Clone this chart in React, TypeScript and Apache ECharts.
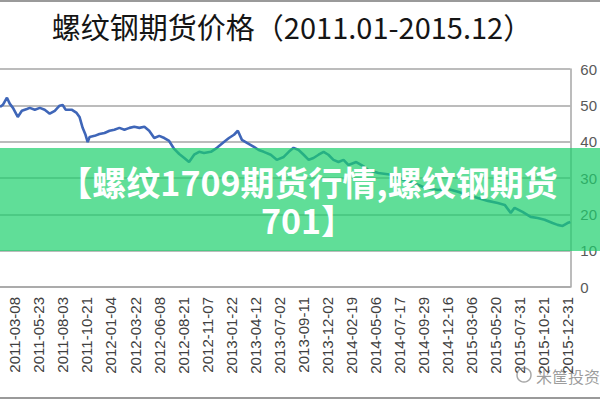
import React, { useEffect, useRef } from "react";
import * as echarts from "echarts";

const chartTitle = "螺纹钢期货价格（2011.01-2015.12）";
const bannerLines = ["【螺纹1709期货行情,螺纹钢期货", "701】"];
const watermarkText = "米筐投资";

const tickLabels = [
  "2011-03-08", "2011-05-23", "2011-08-03", "2011-10-21", "2012-01-04", "2012-03-22",
  "2012-06-08", "2012-08-21", "2012-11-07", "2013-01-22", "2013-04-12", "2013-07-02",
  "2013-09-11", "2013-12-02", "2014-02-19", "2014-05-06", "2014-07-17", "2014-09-29",
  "2014-12-16", "2015-03-06", "2015-05-20", "2015-07-31", "2015-10-21", "2015-12-31",
];

// position along the date axis, in units of the labelled dates (0 = 2011-03-08)
const pricePos = [
  -0.62, -0.5, -0.33, -0.21, -0.08, 0.12, 0.29, 0.5, 0.62, 0.83, 1.04, 1.24, 1.45, 1.66,
  1.86, 1.99, 2.11, 2.36, 2.57, 2.69, 2.82, 2.94, 3.03, 3.11, 3.32, 3.52, 3.73, 3.94, 4.14,
  4.35, 4.56, 4.77, 4.97, 5.18, 5.39, 5.59, 5.8, 6.01, 6.22, 6.42, 6.63, 6.84, 7.05, 7.25,
  7.46, 7.67, 7.87, 8.16, 8.41, 8.7, 8.91, 9.12, 9.28, 9.45, 9.66, 9.95, 10.15, 10.36,
  10.65, 10.9, 11.19, 11.4, 11.6, 11.81, 12.02, 12.23, 12.43, 12.64, 12.85, 13.05, 13.26,
  13.47, 13.68, 13.88, 14.21, 14.5, 14.71, 15.13, 15.67, 16.16, 16.58, 17.07, 17.61, 18.03,
  18.44, 18.86, 19.27, 19.69, 20.1, 20.39, 20.64, 20.8, 21.13, 21.47, 21.76, 22.05, 22.38,
  22.59, 22.8, 23.0, 23.12,
];
// price (hundreds of yuan / ton)
const priceValues = [
  49.6, 50.1, 52.1, 50.4, 49.3, 46.8, 48.5, 49.0, 49.3, 48.8, 49.3, 48.8, 47.7, 48.5,
  49.9, 50.1, 48.8, 48.8, 47.9, 46.8, 43.8, 41.9, 39.9, 41.3, 41.6, 42.1, 42.4, 43.0, 43.3,
  43.8, 43.3, 43.8, 44.1, 43.8, 44.1, 43.0, 41.0, 41.6, 41.0, 40.2, 38.0, 36.6, 35.5, 34.4,
  36.4, 37.2, 36.9, 37.2, 38.3, 39.9, 41.0, 41.9, 43.0, 40.5, 39.7, 38.6, 37.7, 37.2,
  36.4, 35.0, 35.8, 37.2, 38.3, 37.7, 36.4, 35.0, 35.5, 36.4, 37.2, 36.4, 35.0,
  34.4, 35.0, 33.6, 34.4, 33.3, 32.2, 31.4, 30.9, 29.5, 28.7, 27.3, 26.7, 27.0,
  26.2, 25.3, 24.5, 23.7, 23.1, 22.6, 20.4, 21.8, 20.7, 19.3, 19.0, 18.5, 17.6,
  17.1, 16.8, 17.6, 17.9,
];
const yTicks = { min: 0, max: 60, step: 10 };
const xRange = { min: -0.62, max: 23.12 };

export default function App() {
  const ref = useRef<HTMLDivElement>(null);
  useEffect(() => {
    if (!ref.current) return;
    const chart = echarts.init(ref.current, null, { renderer: "svg" });
    const latin = "'Liberation Sans', Arial, sans-serif";
    const cjk = "'Noto Sans CJK SC', sans-serif";
    const bannerText = (text: string, y: number) => ({
      type: "text",
      x: 308,
      y,
      z: 51,
      style: {
        text,
        fontFamily: cjk,
        fontWeight: "bold",
        fontSize: 34,
        fill: "#ffffff",
        textAlign: "center",
        textVerticalAlign: "middle",
      },
    });
    chart.setOption({
      animation: false,
      backgroundColor: "#ffffff",
      grid: { left: 0, right: 27, top: 69, bottom: 113, containLabel: false },
      xAxis: {
        type: "value",
        min: xRange.min,
        max: xRange.max,
        axisLine: { show: true, onZero: false, lineStyle: { color: "#a6a6a6", width: 1.5 } },
        axisTick: { show: false },
        splitLine: { show: false },
        axisLabel: {
          customValues: tickLabels.map((_, i) => i),
          formatter: (v: number) => tickLabels[Math.round(v)] ?? "",
          rotate: 90,
          margin: 10,
          fontSize: 15,
          color: "#404040",
          fontFamily: latin,
        },
      },
      yAxis: {
        type: "value",
        position: "right",
        min: yTicks.min,
        max: yTicks.max,
        interval: yTicks.step,
        axisLine: { show: true, onZero: false, lineStyle: { color: "#a6a6a6", width: 1.5 } },
        axisTick: { show: false },
        splitLine: { show: true, lineStyle: { color: "#a6a6a6", width: 1.5 } },
        axisLabel: { margin: 10, fontSize: 15, color: "#595959", fontFamily: latin },
      },
      series: [
        {
          type: "line",
          data: pricePos.map((p, i) => [p, priceValues[i]]),
          showSymbol: false,
          lineStyle: { color: "#3f66b8", width: 2.6 },
          z: 3,
        },
      ],
      graphic: [
        { type: "line", shape: { x1: 0, y1: 1, x2: 600, y2: 1 }, style: { stroke: "#9a9a9a", lineWidth: 2 }, z: 10 },
        { type: "line", shape: { x1: 0, y1: 398, x2: 600, y2: 398 }, style: { stroke: "#9a9a9a", lineWidth: 2 }, z: 10 },
        {
          type: "text",
          x: 292,
          y: 26,
          z: 10,
          style: {
            text: chartTitle,
            fontFamily: cjk,
            fontSize: 29,
            fill: "#151515",
            textAlign: "center",
            textVerticalAlign: "middle",
          },
        },
        {
          type: "rect",
          shape: { x: 0, y: 148, width: 600, height: 103 },
          style: { fill: "rgba(28, 208, 108, 0.7)" },
          z: 50,
        },
        bannerText(bannerLines[0], 181),
        bannerText(bannerLines[1], 219),
        {
          type: "circle",
          shape: { cx: 524, cy: 375, r: 7 },
          style: { fill: "none", stroke: "rgba(110,110,110,0.6)", lineWidth: 1.5 },
          z: 20,
        },
        {
          type: "text",
          x: 536,
          y: 376,
          z: 20,
          style: {
            text: watermarkText,
            fontFamily: cjk,
            fontSize: 16,
            fill: "rgba(90,90,90,0.6)",
            textAlign: "left",
            textVerticalAlign: "middle",
          },
        },
      ],
    });
    return () => chart.dispose();
  }, []);
  return (
    <div
      ref={ref}
      style={{ position: "fixed", left: 0, top: 0, width: 600, height: 400, background: "#fff" }}
    />
  );
}
